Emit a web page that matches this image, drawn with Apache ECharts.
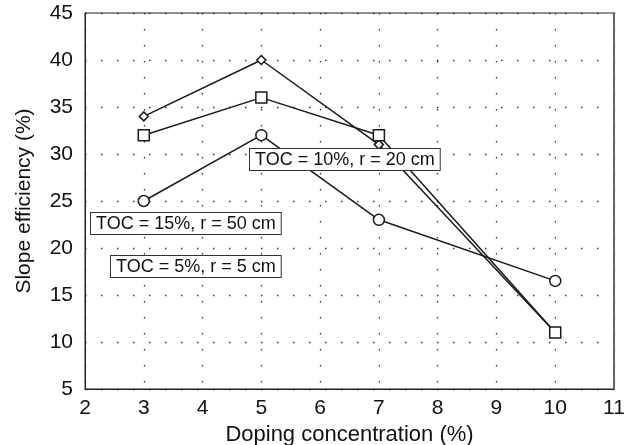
<!DOCTYPE html>
<html>
<head>
<meta charset="utf-8">
<script src="https://cdn.jsdelivr.net/npm/echarts@6/dist/echarts.min.js"></script>
<style>
  html, body { margin: 0; padding: 0; background: #fff; }
  #chart { width: 637px; height: 445px; }
</style>
</head>
<body>
<div id="chart"></div>
<script>
// 数据
var doping = [3, 5, 7, 10];
var diamondVals = [34, 40, 31, 11];
var squareVals = [32, 36, 32, 11];
var circleVals = [25, 32, 23, 16.5];
var xTicks = [2, 3, 4, 5, 6, 7, 8, 9, 10, 11];
var yTicks = [5, 10, 15, 20, 25, 30, 35, 40, 45];
var notes = ['TOC = 10%, r = 20 cm', 'TOC = 15%, r = 50 cm', 'TOC = 5%, r = 5 cm'];

var FONT = 'Liberation Sans, Arial, sans-serif';

function pairs (xs, ys) {
    return xs.map(function (x, i) { return [x, ys[i]]; });
}

function makeSeries (name, vals, symbol, size) {
    return {
        name: name,
        type: 'line',
        data: pairs(doping, vals),
        symbol: symbol,
        symbolSize: size,
        lineStyle: { color: '#1a1a1a', width: 1.5 },
        itemStyle: { color: '#fff', borderColor: '#1a1a1a', borderWidth: 1.5 },
        z: 3
    };
}

// 标注框
function noteBox (text, left, top) {
    return {
        type: 'text', left: left, top: top, z: 10,
        style: { text: text, font: '18px ' + FONT, fill: '#111', backgroundColor: '#fff',
                 borderColor: '#333', borderWidth: 1, padding: [2, 5, 1, 5] }
    };
}

var dotted = { color: '#333', width: 1.3, type: [1.5, 14.5] };

var option = {
    animation: false,
    backgroundColor: '#fff',
    grid: { left: 85, right: 23, top: 13, bottom: 56, show: true, borderColor: '#222', borderWidth: 1,
            outerBoundsMode: 'none', containLabel: false },
    xAxis: {
        type: 'value',
        min: xTicks[0],
        max: xTicks[xTicks.length - 1],
        interval: 1,
        name: 'Doping concentration (%)',
        nameLocation: 'middle',
        nameGap: 29,
        nameTextStyle: { fontFamily: FONT, fontSize: 22, color: '#111' },
        axisLine: { lineStyle: { color: '#222', width: 1 } },
        axisTick: { show: false },
        axisLabel: { fontFamily: FONT, fontSize: 21, color: '#111', margin: 9 },
        splitLine: { show: true, lineStyle: dotted }
    },
    yAxis: [{
        type: 'value',
        min: yTicks[0],
        max: yTicks[yTicks.length - 1],
        interval: 5,
        name: 'Slope efficiency (%)',
        nameLocation: 'middle',
        nameGap: 50,
        nameTextStyle: { fontFamily: FONT, fontSize: 21, color: '#111' },
        axisLine: { show: true, lineStyle: { color: '#222', width: 1 } },
        axisTick: { show: false },
        axisLabel: { fontFamily: FONT, fontSize: 21, color: '#111', margin: 12, padding: [5, 0, 0, 0] },
        splitLine: { show: true, lineStyle: dotted }
    }, {
        type: 'value',
        position: 'right',
        min: yTicks[0],
        max: yTicks[yTicks.length - 1],
        interval: 5,
        axisLine: { show: true, lineStyle: { color: '#666', width: 2 } },
        axisTick: { show: false },
        axisLabel: { show: false },
        splitLine: { show: false }
    }],
    series: [
        makeSeries(notes[0], diamondVals, 'diamond', [9, 9]),
        makeSeries(notes[1], squareVals, 'rect', 11),
        makeSeries(notes[2], circleVals, 'circle', 11)
    ],
    graphic: [
        noteBox(notes[0], 249, 148),
        noteBox(notes[1], 90, 212),
        noteBox(notes[2], 110, 255)
    ]
};

var chart = echarts.init(document.getElementById('chart'));
chart.setOption(option);
</script>
</body>
</html>
